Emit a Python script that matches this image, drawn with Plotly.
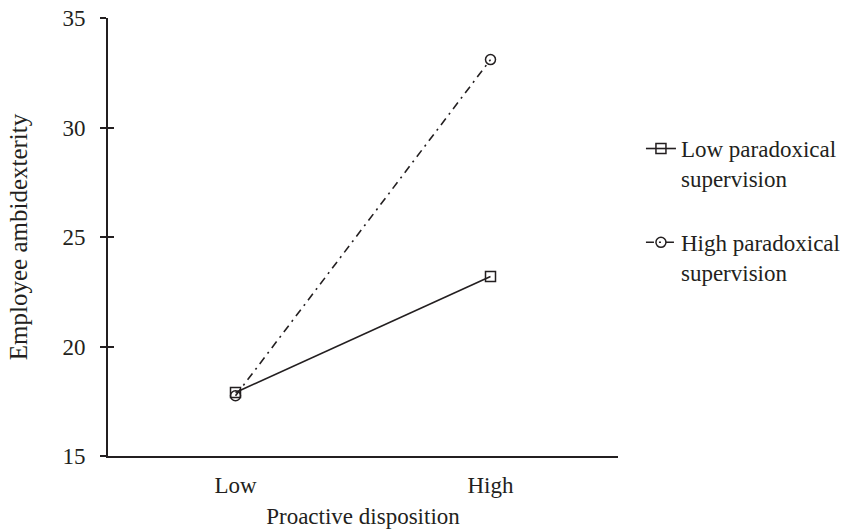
import plotly.graph_objects as go

categories = ["Low", "High"]
low_paradoxical = [17.9, 23.2]
high_paradoxical = [17.75, 33.1]
y_ticks = [15, 20, 25, 30, 35]

ink = "#231f20"
font_family = "Liberation Serif, Times New Roman, serif"
fs = 23

fig = go.Figure()
fig.add_trace(go.Scatter(
    x=categories, y=low_paradoxical, mode="lines+markers",
    name="Low paradoxical<br>supervision",
    line=dict(color=ink, width=1.6),
    marker=dict(symbol="square-open", size=10, color=ink, line=dict(width=1.5)),
    legendgroup="a",
))
fig.add_trace(go.Scatter(
    x=categories, y=high_paradoxical, mode="lines+markers",
    name="High paradoxical<br>supervision",
    line=dict(color=ink, width=1.6, dash="8px,5px,2px,5px"),
    marker=dict(symbol="circle-open", size=10, color=ink, line=dict(width=1.5)),
    legendgroup="b",
))
# invisible trace on overlay axis to show inner half of tick marks
fig.add_trace(go.Scatter(x=categories, y=[20, 20], yaxis="y2", mode="markers",
                         marker=dict(opacity=0), showlegend=False, hoverinfo="skip"))

fig.update_layout(
    width=841, height=530,
    margin=dict(l=108, r=223, t=18, b=74, autoexpand=False),
    paper_bgcolor="white", plot_bgcolor="white",
    font=dict(family=font_family, size=fs, color=ink),
    showlegend=True,
    legend=dict(x=1.045, y=0.751, xanchor="left", yanchor="top",
                traceorder="grouped", tracegroupgap=31, valign="top",
                font=dict(size=fs, family=font_family, color=ink),
                bgcolor="rgba(0,0,0,0)", itemwidth=30),
    xaxis=dict(
        type="category", range=[-0.5, 1.5], automargin=False,
        showgrid=False, zeroline=False,
        showline=True, linecolor=ink, linewidth=2,
        ticks="", ticklabelstandoff=7,
        tickfont=dict(size=fs, family=font_family, color=ink),
        title=dict(text="Proactive disposition", standoff=11,
                   font=dict(size=fs, family=font_family, color=ink)),
    ),
    yaxis=dict(
        range=[15, 35], tickvals=y_ticks, automargin=False,
        showgrid=False, zeroline=False,
        showline=True, linecolor=ink, linewidth=2,
        ticks="outside", ticklen=6, tickwidth=1.5, tickcolor=ink,
        ticklabelstandoff=10, ticklabeloverflow="allow",
        tickfont=dict(size=fs, family=font_family, color=ink),
        title=dict(text="Employee ambidexterity", standoff=28,
                   font=dict(size=25, family=font_family, color=ink)),
    ),
    yaxis2=dict(
        range=[15, 35], tickvals=y_ticks, overlaying="y", side="left",
        anchor="x", automargin=False,
        showgrid=False, zeroline=False, showline=False,
        ticks="inside", ticklen=6, tickwidth=1.5, tickcolor=ink,
        showticklabels=False,
    ),
)

fig.write_html("out.html", config={"displayModeBar": False},
               post_script="document.body.style.margin='0';")
